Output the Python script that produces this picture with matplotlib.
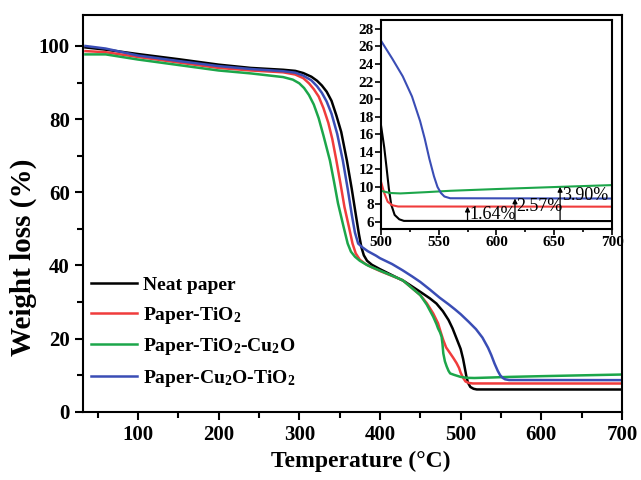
import numpy as np
import matplotlib
matplotlib.use("Agg")
import matplotlib.pyplot as plt
from matplotlib.ticker import MultipleLocator

plt.rcParams['font.family'] = ['Liberation Serif', 'DejaVu Serif']
plt.rcParams['font.weight'] = 'bold'
plt.rcParams['mathtext.fontset'] = 'custom'
plt.rcParams['mathtext.rm'] = 'Liberation Serif:bold'
plt.rcParams['mathtext.bf'] = 'Liberation Serif:bold'
plt.rcParams['mathtext.default'] = 'rm'

# TGA curves: temperature (C) and remaining weight (%)
t_neat = [35, 60, 100, 150, 200, 240, 280, 295, 305, 315, 322, 328, 334, 340, 346, 352, 359, 365,
          370, 374, 377, 380, 384, 390, 400, 430, 450, 462, 470, 478, 485, 490, 495, 500, 503, 505,
          507, 509, 512, 516, 520, 700]
w_neat = [99.6, 99.0, 97.8, 96.4, 94.9, 94.0, 93.5, 93.2, 92.6, 91.6, 90.5, 89.2, 87.5, 85.0, 81.0,
          76.5, 68.7, 61.0, 54.0, 48.5, 45.0, 42.8, 41.3, 40.2, 39.0, 35.7, 32.8, 31.0, 29.6, 27.5,
          25.1, 22.8, 20.0, 17.2, 14.5, 12.2, 9.8, 8.0, 6.8, 6.3, 6.12, 6.1]

t_tio2 = [35, 60, 100, 150, 200, 240, 280, 295, 305, 312, 318, 324, 330, 336, 341, 346, 351, 356,
          361.6, 366, 370, 375, 382, 390, 400, 428, 450, 458, 466, 472, 475, 478.5, 482, 487, 491,
          495, 498, 500, 503, 506, 510, 515, 700]
w_tio2 = [98.6, 98.3, 97.0, 95.5, 94.0, 93.3, 92.8, 92.2, 91.2, 89.8, 88.2, 86.2, 83.0, 79.0, 74.5,
          68.7, 62.5, 56.0, 50.5, 46.0, 43.3, 41.6, 40.4, 39.5, 38.5, 36.0, 31.9, 29.7, 26.9, 24.2,
          22.0, 19.6, 17.6, 16.0, 14.7, 13.3, 12.0, 10.7, 9.3, 8.3, 7.9, 7.76, 7.74]

t_tio2_cu2o = [35, 60, 100, 150, 200, 240, 280, 292, 300, 306, 312, 318, 324, 330, 338, 343, 348,
               355, 360, 364, 369, 375, 385, 400, 428, 450, 458, 466, 470, 472, 474.5, 476.4, 477.5,
               478.5, 480.5, 482.7, 485, 487, 492, 500, 508, 517, 540, 560, 600, 644, 700]
w_tio2_cu2o = [97.7, 97.7, 96.3, 94.8, 93.3, 92.5, 91.5, 90.8, 89.8, 88.5, 86.6, 84.0, 80.3, 75.5,
               68.7, 63.0, 57.0, 50.5, 46.0, 43.8, 42.4, 41.3, 40.0, 38.6, 36.0, 31.9, 29.3, 26.0,
               24.0, 22.8, 21.7, 20.5, 18.5, 16.0, 13.8, 12.4, 11.2, 10.5, 10.1, 9.55, 9.3, 9.25,
               9.4, 9.55, 9.75, 9.95, 10.2]

t_cu2o_tio2 = [35, 60, 100, 150, 200, 240, 280, 295, 305, 315, 322, 328, 334, 340, 347, 354, 360,
               365, 369, 373, 378, 385, 395, 400, 415, 428, 440, 450, 462, 474, 485, 493, 500, 510,
               519, 527, 534, 538, 542, 546, 549, 552, 555, 560, 700]
w_cu2o_tio2 = [100.0, 99.3, 97.4, 95.9, 94.5, 93.7, 93.1, 92.7, 91.9, 90.6, 89.0, 87.2, 84.8, 81.5,
               76.0, 68.7, 61.0, 54.0, 49.0, 46.0, 45.0, 43.9, 42.7, 42.0, 40.4, 38.7, 37.0, 35.5,
               33.4, 31.2, 29.4, 28.0, 26.7, 24.6, 22.6, 20.3, 17.5, 15.5, 13.2, 11.2, 10.0, 9.3,
               8.9, 8.7, 8.67]

labels = ['Neat paper', 'Paper-TiO$_2$', 'Paper-TiO$_2$-Cu$_2$O', 'Paper-Cu$_2$O-TiO$_2$']
colors = ['#000000', '#f03c3c', '#1ca64a', '#3a4db5']
curves = [(t_neat, w_neat), (t_tio2, w_tio2), (t_tio2_cu2o, w_tio2_cu2o), (t_cu2o_tio2, w_cu2o_tio2)]

# residue increase over neat paper, marked at these temperatures
residue_pct = [1.64, 2.57, 3.90]
residue_t = [575, 616, 655]
residue_base = 6.1

fig = plt.figure(figsize=(6.41, 4.80), dpi=100)
ax = fig.add_axes([0.1295, 0.142, 0.8409, 0.827])

for (t, w), lab, c in zip(curves, labels, colors):
    ax.plot(t, w, color=c, lw=1.8, label=lab)

ax.set_xlim(32, 700)
ax.set_ylim(0, 108.5)
ax.xaxis.set_major_locator(MultipleLocator(100))
ax.xaxis.set_minor_locator(MultipleLocator(50))
ax.yaxis.set_major_locator(MultipleLocator(20))
ax.yaxis.set_minor_locator(MultipleLocator(10))
ax.tick_params(which='both', direction='out', labelsize=15, width=1.5)
ax.tick_params(which='major', length=6)
ax.tick_params(which='minor', length=4)
for s in ax.spines.values():
    s.set_linewidth(1.5)
ax.set_xlabel('Temperature (°C)', fontsize=17, fontweight='bold')
ax.xaxis.set_label_coords(0.515, -0.098)
ax.set_ylabel('Weight loss (%)', fontsize=21, fontweight='bold')
ax.yaxis.set_label_coords(-0.085, 0.39)

leg = ax.legend(loc='lower left', bbox_to_anchor=(0.0, 0.038), frameon=False,
                prop={'family': 'Liberation Serif', 'weight': 'bold', 'size': 14},
                handlelength=2.4, labelspacing=0.55, handletextpad=0.3, borderaxespad=0.0)

# inset: zoom on the residue region
ins = fig.add_axes([0.594, 0.523, 0.361, 0.435])
for (t, w), c in zip(curves, colors):
    ins.plot(t, w, color=c, lw=1.5)
ins.set_xlim(500, 700)
ins.set_ylim(5.2, 29)
ins.xaxis.set_major_locator(MultipleLocator(50))
ins.xaxis.set_minor_locator(MultipleLocator(25))
ins.yaxis.set_major_locator(MultipleLocator(2))
ins.tick_params(which='both', direction='out', labelsize=11, width=1.2, pad=1)
ins.tick_params(which='major', length=4)
ins.tick_params(which='minor', length=2.5)
for s in ins.spines.values():
    s.set_linewidth(1.5)

for pct, t in zip(residue_pct, residue_t):
    ins.annotate('', xy=(t, residue_base + pct), xytext=(t, residue_base),
                 arrowprops=dict(arrowstyle='-|>', color='black', lw=0.9,
                                 mutation_scale=7, shrinkA=0, shrinkB=0))
    ins.text(t + 1.5, residue_base + pct - 1.45, '%.2f%%' % pct, fontsize=13,
             fontweight='normal', ha='left', va='baseline')

fig.savefig('out.png', dpi=100)
